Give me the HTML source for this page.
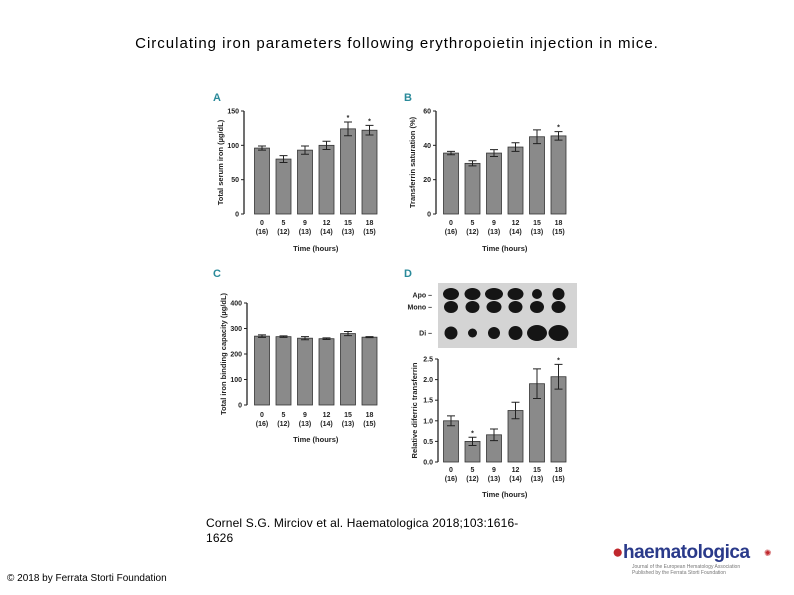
<!DOCTYPE html>
<html><head><meta charset="utf-8"><style>
body{margin:0;width:794px;height:595px;background:#fff;position:relative;overflow:hidden;font-family:"Liberation Sans",sans-serif}
.t{position:absolute}
</style></head><body>
<div class="t" style="left:0;width:794px;top:35px;text-align:center;font-size:15px;letter-spacing:1px;color:#000">Circulating iron parameters following erythropoietin injection in mice.</div>
<div class="t" style="left:206px;top:516px;font-size:12px;letter-spacing:0.15px;line-height:15px;color:#000">Cornel S.G. Mirciov et al. Haematologica 2018;103:1616-<br>1626</div>
<div class="t" style="left:7px;top:573px;font-size:10px;color:#000">© 2018 by Ferrata Storti Foundation</div>
<div class="t" style="left:612px;top:542px;width:165px;height:36px">
<span style="position:absolute;left:0;top:0;font-size:19px;font-weight:bold;color:#2a3a8a;letter-spacing:-0.5px"><span style="color:#c0282d">●</span>haematologica</span>
<span style="position:absolute;left:152px;top:6px;font-size:9px;color:#c0282d">✺</span>
<span style="position:absolute;left:20px;top:22px;font-size:5px;color:#777;line-height:6px">Journal of the European Hematology Association<br>Published by the Ferrata Storti Foundation</span>
</div>
<svg id="fig" width="794" height="595" style="position:absolute;left:0;top:0" xmlns="http://www.w3.org/2000/svg"></svg>
<script>
const categories=["0","5","9","12","15","18"];
const nLabels=["(16)","(12)","(13)","(14)","(13)","(15)"];
const valuesA=[96,80,93,100,124,122];
const errA=[3,5,6,6,10,7];
const starA=[0,0,0,0,1,1];
const ticksA=[0,50,100,150];
const valuesB=[35.5,29.5,35.5,39,45,45.5];
const errB=[1,1.5,2,2.5,4,2.5];
const starB=[0,0,0,0,0,1];
const ticksB=[0,20,40,60];
const valuesC=[270,268,262,260,280,266];
const errC=[5,3,6,3,8,2];
const starC=[0,0,0,0,0,0];
const ticksC=[0,100,200,300,400];
const valuesD=[1.0,0.5,0.66,1.25,1.9,2.07];
const errD=[0.12,0.1,0.14,0.2,0.36,0.3];
const starD=[0,1,0,0,0,1];
const ticksD=["0.0","0.5","1.0","1.5","2.0","2.5"];
const NS="http://www.w3.org/2000/svg";
const svg=document.getElementById('fig');
function mk(tag,attrs,parent,txt){const e=document.createElementNS(NS,tag);for(const k in attrs)e.setAttribute(k,attrs[k]);if(txt!==undefined)e.textContent=txt;(parent||svg).appendChild(e);return e;}
function panel(name,letter,lx,ly,ax,y0,y1,cx0,max,vals,errs,stars,ticks,ytitle,lblY,timeY){
  const g=mk('g',{});
  
  
  const L=mk('text',{x:lx,y:ly,'font-size':11,'font-weight':'bold',fill:'#2a8a9a'},g,letter);
  
  
  const ys=v=>y0-(v/max)*(y0-y1);
  const step=21.5,bw=15;
  const ax1=mk('line',{x1:ax,y1:y1,x2:ax,y2:y0,stroke:'#222','stroke-width':1.3},g);
  
  
  ticks.forEach(t=>{const v=parseFloat(t);const y=ys(v);
    mk('line',{x1:ax-3,y1:y,x2:ax,y2:y,stroke:'#222','stroke-width':1},g);
    const tl=mk('text',{x:ax-5,y:y+2.5,'font-size':7,'font-weight':'bold','text-anchor':'end',fill:'#222'},g,t);
    
    
  });
  vals.forEach((v,i)=>{const cx=cx0+i*step;const y=ys(v);
    const b=mk('rect',{x:cx-bw/2,y:y,width:bw,height:y0-y,fill:'#8a8a8a',stroke:'#333','stroke-width':0.8},g);
    
    
    const yt=ys(v+errs[i]),yb=ys(v-errs[i]);
    mk('path',{d:`M${cx},${yt}V${yb}M${cx-4},${yt}H${cx+4}M${cx-4},${yb}H${cx+4}`,stroke:'#222','stroke-width':1,fill:'none'},g);
    if(stars[i]){const s=mk('text',{x:cx,y:yt-2,'font-size':7,'font-weight':'bold','text-anchor':'middle',fill:'#222'},g,'*');
      
      }
    const c=mk('text',{x:cx,y:lblY,'font-size':7,'font-weight':'bold','text-anchor':'middle',fill:'#222'},g,categories[i]);
    
    
    const n=mk('text',{x:cx,y:lblY+9,'font-size':7,'font-weight':'bold','text-anchor':'middle',fill:'#222'},g,nLabels[i]);
    
    
  });
  const xt=mk('text',{x:cx0+2.5*step,y:timeY,'font-size':7.5,'font-weight':'bold','text-anchor':'middle',fill:'#222'},g,'Time (hours)');
  
  
  const ym=(y0+y1)/2;
  const yt=mk('text',{x:0,y:0,transform:`translate(${ax-21},${ym}) rotate(-90)`,'font-size':7.5,'font-weight':'bold','text-anchor':'middle',fill:'#222'},g,ytitle);
  
  
}
panel('a','A',213,101,244,214,111,262,150,valuesA,errA,starA,ticksA.map(String),'Total serum iron (µg/dL)',225,251);
panel('b','B',404,101,436,214,111,451,60,valuesB,errB,starB,ticksB.map(String),'Transferrin saturation (%)',225,251);
panel('c','C',213,277,247,405,303,262,400,valuesC,errC,starC,ticksC.map(String),'Total iron binding capacity (µg/dL)',417,442);
panel('d','D',404,277,438,462,359,451,2.5,valuesD,errD,starD,ticksD,'Relative diferric transferrin',472,497);
const blot=mk('g',{});


mk('rect',{x:438,y:283,width:139,height:65,fill:'#d4d4d4'},blot);
const bandRows=[294,307,333];
const bandSizes=[[8,8,9,8,5,6],[7,7,7.5,7,7,7],[6.5,4.5,6,7,10,10]];
bandRows.forEach((y,r)=>{categories.forEach((c,i)=>{mk('ellipse',{cx:451+i*21.5,cy:y,rx:bandSizes[r][i],ry:Math.min(bandSizes[r][i],r==2?8:6),fill:'#151515'},blot);});});
[['Apo',295],['Mono',307],['Di',333]].forEach(([t,y])=>{const e=mk('text',{x:432,y:y+2.5,'font-size':7,'font-weight':'bold','text-anchor':'end',fill:'#222'},blot,t+' –');
  
  });
</script>
</body></html>
